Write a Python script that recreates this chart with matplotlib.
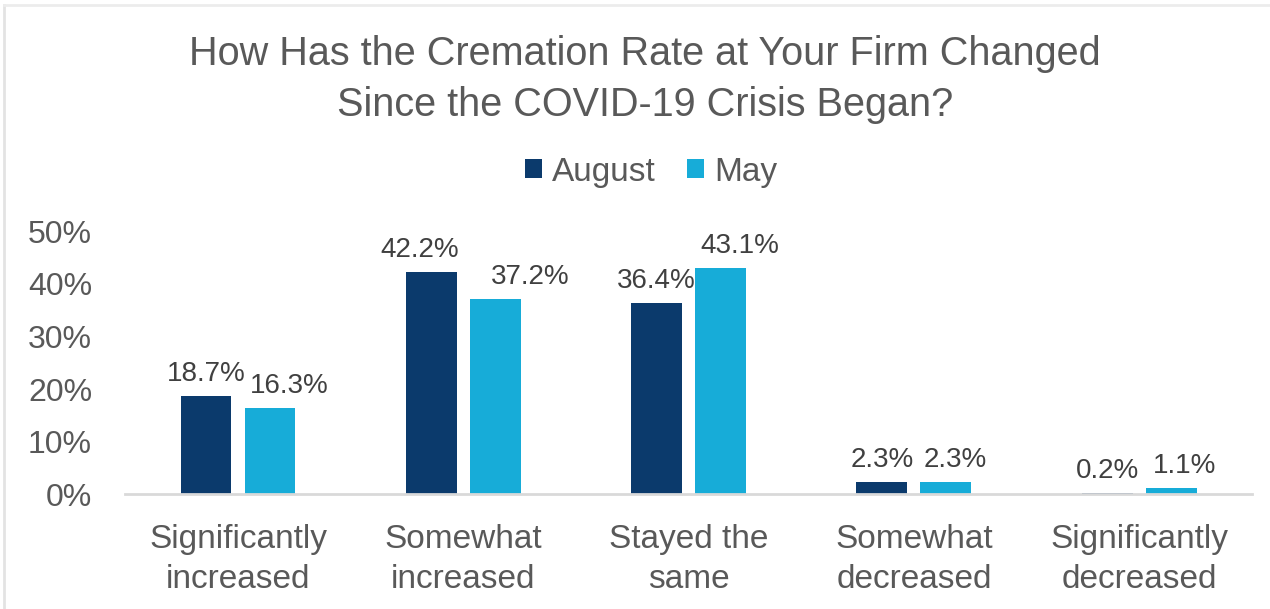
import numpy as np
import matplotlib
matplotlib.use("Agg")
import matplotlib.pyplot as plt
from matplotlib.lines import Line2D

plt.rcParams['font.family'] = ['Liberation Sans', 'DejaVu Sans']

# data
categories = ["Significantly\nincreased", "Somewhat\nincreased", "Stayed the\nsame",
              "Somewhat\ndecreased", "Significantly\ndecreased"]
august = [18.7, 42.2, 36.4, 2.3, 0.2]
may = [16.3, 37.2, 43.1, 2.3, 1.1]
yticks = [0, 10, 20, 30, 40, 50]

c_aug = "#0b3a6c"
c_may = "#17acd8"
txt = "#595959"

fig = plt.figure(figsize=(12.7, 6.09), dpi=100, facecolor="white")
ax = fig.add_axes([0.0987, 0.1888, 0.887, 0.4311])

x = np.arange(len(categories))
w = 0.226
off = 0.142
b1 = ax.bar(x - off, august, w, color=c_aug, label="August")
b2 = ax.bar(x + off, may, w, color=c_may, label="May")

# label nudges in pixels (labels pushed apart like in the excel chart)
dx_aug = [0, -12, 0, 0, 0]
dx_may = [19, 35, 19, 9, 13]
for bars, vals, dxs in [(b1, august, dx_aug), (b2, may, dx_may)]:
    for r, v, d in zip(bars, vals, dxs):
        ax.annotate(f"{v:.1f}%", (r.get_x() + r.get_width() / 2, r.get_height()),
                    xytext=(d, 15), textcoords="offset pixels", ha="center", va="baseline",
                    fontsize=20, color="#404040", annotation_clip=False)

ax.set_xlim(-0.5, len(categories) - 0.5)
ax.set_ylim(0, 50)
ax.set_yticks(yticks)
ax.set_yticklabels([f"{t}%" for t in yticks])
ax.set_xticks(x)
ax.set_xticklabels(categories, linespacing=1.4)
ax.tick_params(axis="y", length=0, pad=24, labelsize=23, labelcolor=txt)
ax.tick_params(axis="x", length=0, pad=21.5, labelsize=24, labelcolor=txt)
for s in ["top", "right", "left"]:
    ax.spines[s].set_visible(False)
ax.spines["bottom"].set_color("#d9d9d9")
ax.spines["bottom"].set_linewidth(2)

fig.text(645 / 1270, 1 - 35 / 609, "How Has the Cremation Rate at Your Firm Changed\nSince the COVID-19 Crisis Began?",
         ha="center", va="top", fontsize=28.5, color=txt, linespacing=1.45)

ax.legend(loc="center", bbox_to_anchor=(651 / 1270, 1 - 172 / 609), bbox_transform=fig.transFigure,
          ncol=2, frameon=False, fontsize=24, labelcolor=txt, handlelength=0.5, handleheight=0.5,
          handletextpad=0.3, columnspacing=0.95)

# faint frame of the original screenshot
fig.add_artist(Line2D([4 / 1270, 4 / 1270], [0, 1 - 5 / 609], transform=fig.transFigure, color="#e3e3e3", lw=2))
fig.add_artist(Line2D([4 / 1270, 1], [1 - 5 / 609, 1 - 5 / 609], transform=fig.transFigure, color="#ececec", lw=2))

fig.savefig("out.png", dpi=100, facecolor="white")
